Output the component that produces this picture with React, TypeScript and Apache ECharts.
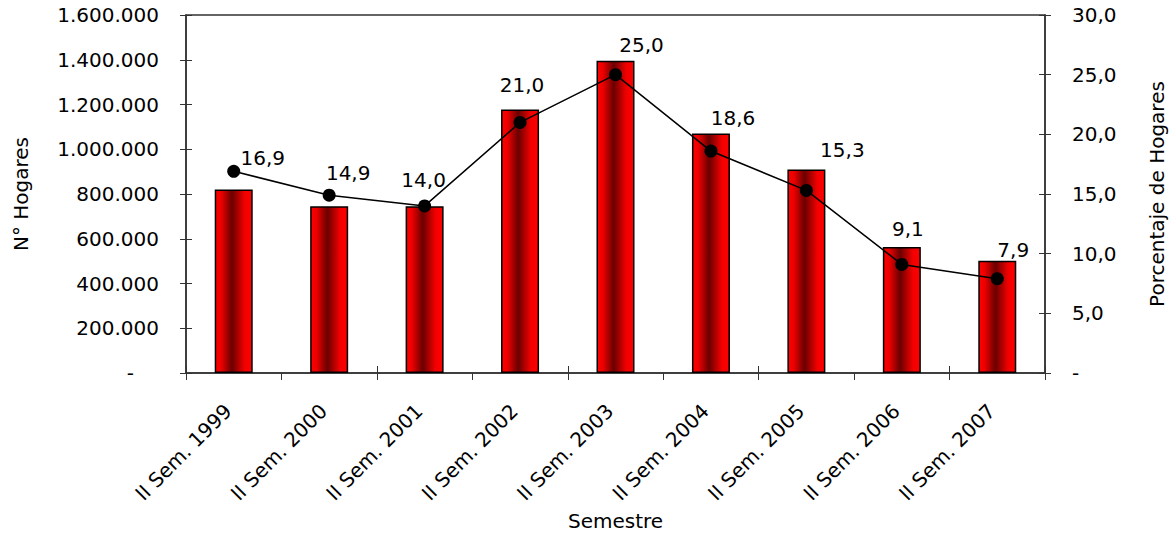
import React, { useEffect, useRef } from "react";
import * as echarts from "echarts";

const categories = [
  "II Sem. 1999",
  "II Sem. 2000",
  "II Sem. 2001",
  "II Sem. 2002",
  "II Sem. 2003",
  "II Sem. 2004",
  "II Sem. 2005",
  "II Sem. 2006",
  "II Sem. 2007",
];
const hogares = [820000, 745000, 745000, 1178000, 1396000, 1070000, 910000, 563000, 502000];
const porcentaje = [16.9, 14.9, 14.0, 21.0, 25.0, 18.6, 15.3, 9.1, 7.9];
const labelOffsets = [
  [29, -13],
  [19, -22],
  [-1, -26],
  [2, -37],
  [26, -30],
  [22, -33],
  [36, -40],
  [6, -35],
  [16, -29],
];

const FONT = "DejaVu Sans";
const FS = 20;
const AXIS_COLOR = "#333";

const fmtThousands = (v: number) =>
  v === 0 ? "{d|-}" : String(Math.round(v)).replace(/\B(?=(\d{3})+(?!\d))/g, ".");
const fmtPct = (v: number) => (v === 0 ? "-" : v.toFixed(1).replace(".", ","));

export default function App() {
  const ref = useRef<HTMLDivElement>(null);
  useEffect(() => {
    if (!ref.current) return;
    const chart = echarts.init(ref.current, null, { renderer: "svg" });
    const grid = { left: 186, right: 130, top: 15, bottom: 161, containLabel: false, outerBoundsMode: "none" };
    const barGrad = new echarts.graphic.LinearGradient(0, 0, 1, 0, [
      { offset: 0, color: "#ff0000" },
      { offset: 0.15, color: "#ee0000" },
      { offset: 0.45, color: "#6a0000" },
      { offset: 0.8, color: "#f20000" },
      { offset: 1, color: "#ff0000" },
    ]);
    chart.setOption({
      animation: false,
      textStyle: { fontFamily: FONT },
      grid: [
        { ...grid, show: true, borderColor: AXIS_COLOR, borderWidth: 1.5, backgroundColor: "transparent" },
        { ...grid },
      ],
      xAxis: [
        {
          type: "category",
          data: categories,
          gridIndex: 0,
          position: "bottom",
          name: "Semestre",
          nameLocation: "middle",
          nameGap: 135,
          nameTextStyle: { fontFamily: FONT, fontSize: FS, color: "#000" },
          axisLine: { lineStyle: { color: AXIS_COLOR, width: 1.5 } },
          axisTick: { show: true, inside: false, length: 7, lineStyle: { color: AXIS_COLOR } },
          axisLabel: {
            rotate: 45,
            margin: 29,
            padding: [0, 8, 0, 0],
            fontFamily: FONT,
            fontSize: FS,
            color: "#000",
            interval: 0,
          },
          splitLine: { show: false },
        },
        {
          type: "category",
          data: categories,
          gridIndex: 1,
          position: "bottom",
          axisLine: { show: false },
          axisTick: { show: true, inside: true, length: 7, lineStyle: { color: AXIS_COLOR } },
          axisLabel: { show: false },
          splitLine: { show: false },
        },
      ],
      yAxis: [
        {
          type: "value",
          gridIndex: 0,
          position: "left",
          min: 0,
          max: 1600000,
          interval: 200000,
          name: "N° Hogares",
          nameLocation: "middle",
          nameGap: 155,
          nameTextStyle: { fontFamily: FONT, fontSize: FS, color: "#000" },
          axisLine: { show: true, lineStyle: { color: AXIS_COLOR, width: 1.5 } },
          axisTick: { show: true, inside: false, length: 6, lineStyle: { color: AXIS_COLOR } },
          axisLabel: {
            margin: 27,
            fontFamily: FONT,
            fontSize: FS,
            color: "#000",
            formatter: fmtThousands,
            rich: { d: { fontFamily: FONT, fontSize: FS, color: "#000", padding: [0, 25, 0, 0] } },
          },
          splitLine: { show: false },
        },
        {
          type: "value",
          gridIndex: 0,
          position: "right",
          min: 0,
          max: 30,
          interval: 5,
          name: "Porcentaje de Hogares",
          nameLocation: "middle",
          nameGap: 102,
          nameTextStyle: { fontFamily: FONT, fontSize: FS, color: "#000" },
          axisLine: { show: true, lineStyle: { color: AXIS_COLOR, width: 1.5 } },
          axisTick: { show: true, inside: false, length: 6, lineStyle: { color: AXIS_COLOR } },
          axisLabel: { margin: 27, fontFamily: FONT, fontSize: FS, color: "#000", formatter: fmtPct },
          splitLine: { show: false },
        },
        {
          type: "value",
          gridIndex: 1,
          position: "left",
          min: 0,
          max: 1600000,
          interval: 200000,
          axisLine: { show: false },
          axisTick: { show: true, inside: true, length: 6, lineStyle: { color: AXIS_COLOR } },
          axisLabel: { show: false },
          splitLine: { show: false },
        },
        {
          type: "value",
          gridIndex: 1,
          position: "right",
          min: 0,
          max: 30,
          interval: 5,
          axisLine: { show: false },
          axisTick: { show: true, inside: true, length: 6, lineStyle: { color: AXIS_COLOR } },
          axisLabel: { show: false },
          splitLine: { show: false },
        },
      ],
      series: [
        {
          type: "bar",
          xAxisIndex: 0,
          yAxisIndex: 0,
          data: hogares,
          barWidth: 38,
          itemStyle: { color: barGrad, borderColor: "#000", borderWidth: 1.5 },
          z: 2,
        },
        {
          type: "line",
          xAxisIndex: 0,
          yAxisIndex: 1,
          data: porcentaje.map((v, i) => ({
            value: v,
            label: { offset: labelOffsets[i] },
          })),
          symbol: "circle",
          symbolSize: 13,
          lineStyle: { color: "#000", width: 1.5 },
          itemStyle: { color: "#000" },
          label: {
            show: true,
            position: "inside",
            fontFamily: FONT,
            fontSize: FS,
            color: "#000",
            formatter: (p: any) => fmtPct(p.value),
          },
          z: 5,
        },
      ],
    });
    return () => chart.dispose();
  }, []);
  return <div ref={ref} style={{ width: 1175, height: 534, position: "absolute", left: 0, top: 0 }} />;
}
